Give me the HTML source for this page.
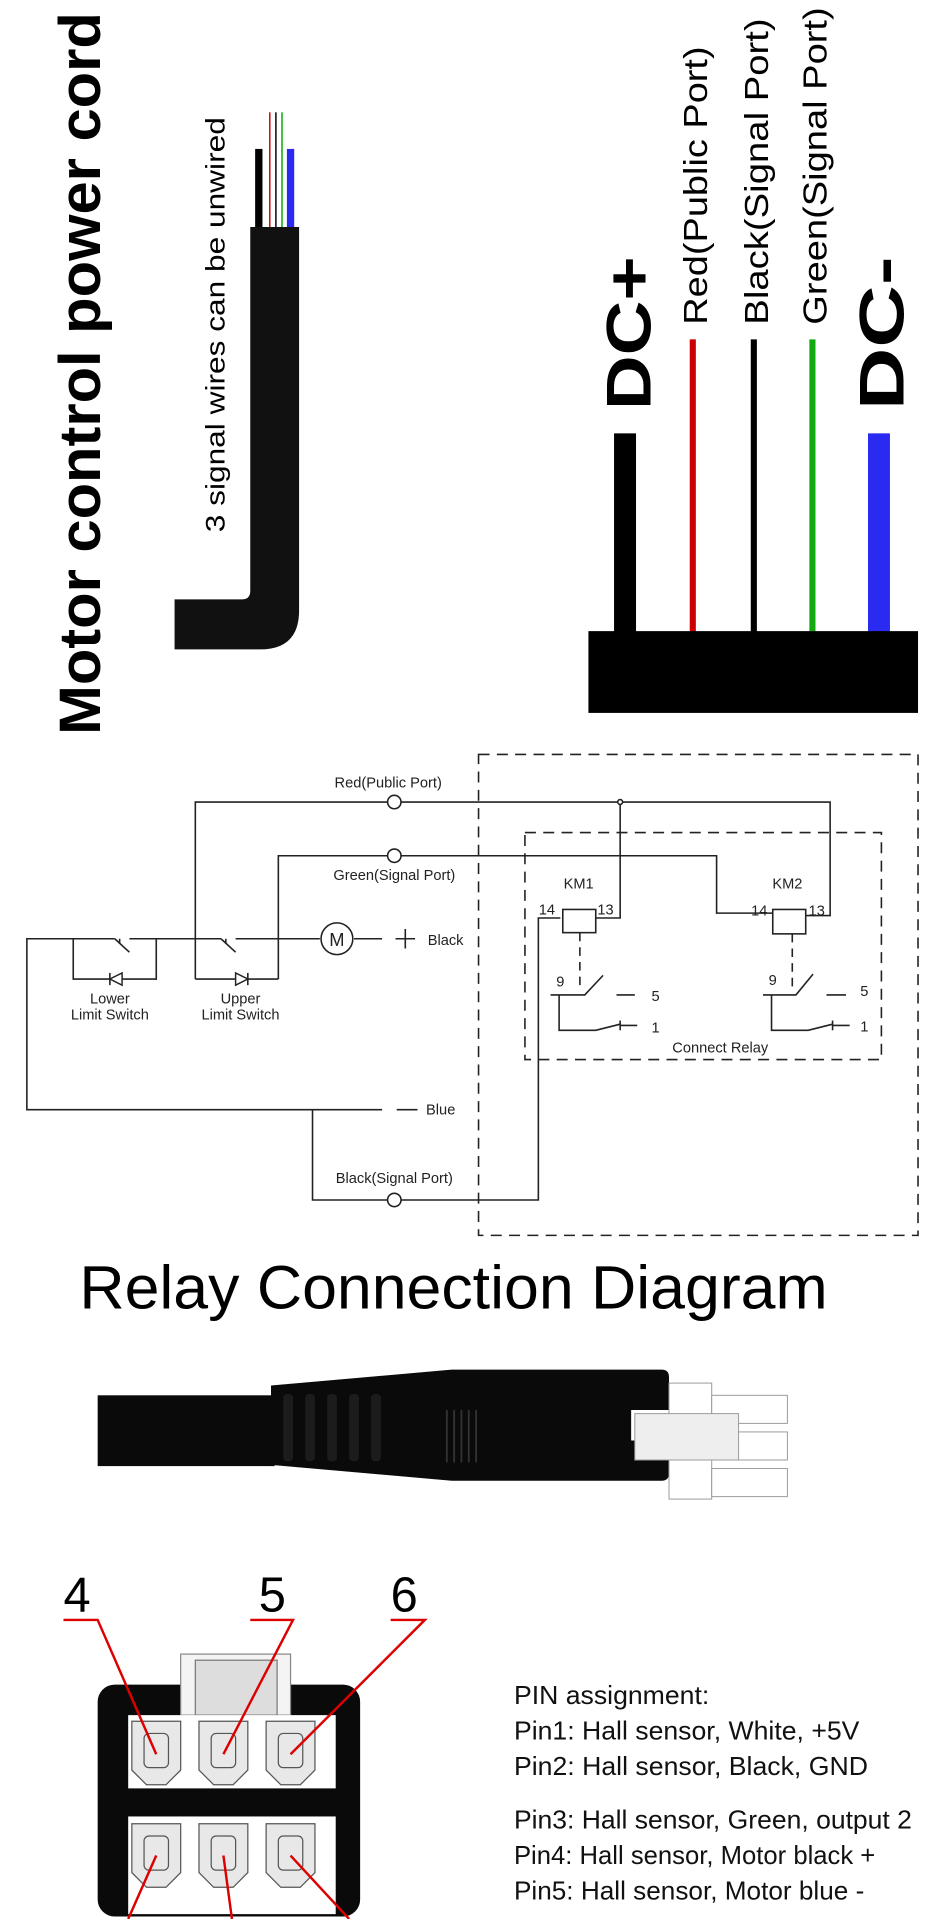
<!DOCTYPE html>
<html><head><meta charset="utf-8"><style>
html,body{margin:0;padding:0;background:#fff;}
svg{display:block;}
text{font-family:"Liberation Sans",Arial,sans-serif;}
</style></head><body>
<svg width="940" height="1919" viewBox="0 0 770 1572" preserveAspectRatio="none" xmlns="http://www.w3.org/2000/svg">
<rect width="770" height="1572" fill="#fff"/>
<text transform="translate(82,602) rotate(-90)" font-size="48" font-weight="bold" fill="#000" textLength="592" lengthAdjust="spacingAndGlyphs">Motor control power cord</text>
<line x1="221" y1="92" x2="221" y2="190" stroke="#c00" stroke-width="1.2"/>
<line x1="226" y1="92" x2="226" y2="190" stroke="#000" stroke-width="1.2"/>
<line x1="231" y1="92" x2="231" y2="190" stroke="#0a0" stroke-width="1.2"/>
<rect x="209" y="122" width="6" height="68" fill="#000"/>
<rect x="235" y="122" width="6" height="68" fill="#2a2af0"/>
<path d="M205,186 H245 V500 Q245,532 213,532 H143 V491 H198 Q205,491 205,484 Z" fill="#111"/>
<text transform="translate(184,436) rotate(-90)" font-size="22" fill="#000" textLength="340" lengthAdjust="spacingAndGlyphs">3 signal wires can be unwired</text>
<text transform="translate(533,336) rotate(-90)" font-size="52" font-weight="bold" textLength="126" lengthAdjust="spacingAndGlyphs">DC+</text>
<text transform="translate(579,266) rotate(-90)" font-size="27" textLength="228" lengthAdjust="spacingAndGlyphs">Red(Public Port)</text>
<text transform="translate(629,266) rotate(-90)" font-size="27" textLength="251" lengthAdjust="spacingAndGlyphs">Black(Signal Port)</text>
<text transform="translate(677,266) rotate(-90)" font-size="27" textLength="260" lengthAdjust="spacingAndGlyphs">Green(Signal Port)</text>
<text transform="translate(740,336) rotate(-90)" font-size="52" font-weight="bold" textLength="126" lengthAdjust="spacingAndGlyphs">DC-</text>
<rect x="503" y="355" width="18" height="165" fill="#000"/>
<rect x="565" y="278" width="5" height="242" fill="#c00"/>
<rect x="615" y="278" width="5" height="242" fill="#000"/>
<rect x="663" y="278" width="5" height="242" fill="#1a1"/>
<rect x="711" y="355" width="18" height="165" fill="#2a2af0"/>
<rect x="482" y="517" width="270" height="67" fill="#000"/>

<g stroke="#222" stroke-width="1.3" fill="none">
<rect x="392" y="618" width="360" height="394" stroke-dasharray="9,6"/>
<rect x="430" y="682" width="292" height="186" stroke-dasharray="9,6"/>
<polyline points="160,802 160,657 680,657 680,750 660,750"/>
<polyline points="228,802 228,701 587,701 587,748 633,748"/>
<polyline points="487,752 508,752 508,657"/>
<polyline points="459,752 441,752 441,983 256,983 256,909"/>
<polyline points="313,909 22,909 22,769 94,769"/>
<line x1="106" y1="769" x2="181" y2="769"/>
<line x1="193" y1="769" x2="262" y2="769"/>
<line x1="290" y1="769" x2="313" y2="769"/>
<line x1="324" y1="769" x2="340" y2="769"/><line x1="332" y1="761" x2="332" y2="777"/>
<line x1="325" y1="909" x2="342" y2="909"/>
<polyline points="94,769 106,780"/><line x1="98" y1="769" x2="98" y2="773"/>
<polyline points="181,769 193,780"/><line x1="185" y1="769" x2="185" y2="773"/>
<polyline points="60,769 60,802 128,802 128,769"/>
<polyline points="160,802 228,802"/>
<circle cx="276" cy="769" r="13"/>
<circle cx="323" cy="657" r="5.5" fill="#fff"/>
<circle cx="323" cy="701" r="5.5" fill="#fff"/>
<circle cx="323" cy="983" r="5.5" fill="#fff"/>
<circle cx="508" cy="657" r="2" fill="#fff"/>
<rect x="461" y="745" width="27" height="19" fill="#fff"/>
<rect x="633" y="745" width="27" height="20" fill="#fff"/>
<line x1="475" y1="764" x2="475" y2="812" stroke-dasharray="7,5"/>
<line x1="649" y1="765" x2="649" y2="812" stroke-dasharray="7,5"/>
<polyline points="451,815 479,815 494,799"/><line x1="505" y1="815" x2="520" y2="815"/>
<polyline points="458,815 458,844 488,844 508,839"/><line x1="508" y1="840" x2="522" y2="840"/><line x1="508" y1="836" x2="508" y2="844"/>
<polyline points="625,815 652,815 666,798"/><line x1="677" y1="815" x2="693" y2="815"/>
<polyline points="632,815 632,844 662,844 682,839"/><line x1="682" y1="840" x2="696" y2="840"/><line x1="682" y1="836" x2="682" y2="844"/>
</g>
<polygon points="90,802 100,797 100,807" fill="#fff" stroke="#222" stroke-width="1.2"/><line x1="90" y1="797" x2="90" y2="807" stroke="#222" stroke-width="1.3"/>
<polygon points="203,802 193,797 193,807" fill="#fff" stroke="#222" stroke-width="1.2"/><line x1="203" y1="797" x2="203" y2="807" stroke="#222" stroke-width="1.3"/>
<g font-size="12" fill="#222" text-anchor="middle">
<text x="318" y="645">Red(Public Port)</text>
<text x="323" y="721">Green(Signal Port)</text>
<text x="323" y="969">Black(Signal Port)</text>
<text x="90" y="822">Lower</text><text x="90" y="835">Limit Switch</text>
<text x="197" y="822">Upper</text><text x="197" y="835">Limit Switch</text>
<text x="276" y="775" font-size="15">M</text>
<text x="365" y="774">Black</text>
<text x="361" y="913">Blue</text>
<text x="474" y="728">KM1</text><text x="645" y="728">KM2</text>
<text x="448" y="749">14</text><text x="496" y="749">13</text>
<text x="622" y="750">14</text><text x="669" y="750">13</text>
<text x="459" y="808">9</text><text x="633" y="807">9</text>
<text x="537" y="820">5</text><text x="708" y="816">5</text>
<text x="537" y="846">1</text><text x="708" y="845">1</text>
<text x="590" y="862">Connect Relay</text>
</g>
<text x="65" y="1072" font-size="50" fill="#000" textLength="613" lengthAdjust="spacingAndGlyphs">Relay Connection Diagram</text>

<rect x="80" y="1143" width="145" height="58" fill="#0a0a0a"/>
<path d="M222,1135 L370,1122 L542,1122 Q548,1122 548,1128 L548,1155 L517,1155 L517,1180 L548,1180 L548,1207 Q548,1213 542,1213 L370,1213 L222,1200 Z" fill="#0a0a0a"/>
<g fill="#1c1c1c"><rect x="232" y="1142" width="8" height="55" rx="3"/><rect x="250" y="1142" width="8" height="55" rx="3"/><rect x="268" y="1142" width="8" height="55" rx="3"/><rect x="286" y="1142" width="8" height="55" rx="3"/><rect x="304" y="1142" width="8" height="55" rx="3"/></g>
<g stroke="#333" stroke-width="1.5"><line x1="366" y1="1155" x2="366" y2="1198"/><line x1="372" y1="1155" x2="372" y2="1198"/><line x1="378" y1="1155" x2="378" y2="1198"/><line x1="384" y1="1155" x2="384" y2="1198"/><line x1="390" y1="1155" x2="390" y2="1198"/></g>
<g fill="#fff" stroke="#999" stroke-width="0.8">
<rect x="548" y="1133" width="35" height="95"/>
<rect x="583" y="1143" width="62" height="23"/><rect x="583" y="1173" width="62" height="23"/><rect x="583" y="1203" width="62" height="23"/>
<rect x="520" y="1158" width="85" height="38" fill="#eee"/>
</g>

<rect x="80" y="1380" width="215" height="190" rx="14" fill="#0a0a0a"/>
<rect x="148" y="1355" width="90" height="50" fill="#f4f4f4" stroke="#888"/>
<rect x="160" y="1360" width="67" height="45" fill="#ddd" stroke="#777"/>
<rect x="105" y="1405" width="170" height="60" fill="#fff"/>
<rect x="105" y="1488" width="170" height="80" fill="#fff"/>
<g fill="#e8e8e8" stroke="#555" stroke-width="1">
<path d="M108,1410 h40 v40 l-12,12 h-16 l-12,-12 z"/><path d="M163,1410 h40 v40 l-12,12 h-16 l-12,-12 z"/><path d="M218,1410 h40 v40 l-12,12 h-16 l-12,-12 z"/>
<path d="M108,1494 h40 v40 l-12,12 h-16 l-12,-12 z"/><path d="M163,1494 h40 v40 l-12,12 h-16 l-12,-12 z"/><path d="M218,1494 h40 v40 l-12,12 h-16 l-12,-12 z"/>
<rect x="118" y="1420" width="20" height="28" rx="4"/><rect x="173" y="1420" width="20" height="28" rx="4"/><rect x="228" y="1420" width="20" height="28" rx="4"/>
<rect x="118" y="1504" width="20" height="28" rx="4"/><rect x="173" y="1504" width="20" height="28" rx="4"/><rect x="228" y="1504" width="20" height="28" rx="4"/>
</g>
<g font-size="40" fill="#000"><text x="52" y="1320">4</text><text x="212" y="1320">5</text><text x="320" y="1320">6</text></g>
<g stroke="#d00" stroke-width="2" fill="none">
<polyline points="52,1327 80,1327 128,1437"/>
<polyline points="205,1327 240,1327 183,1437"/>
<polyline points="320,1327 348,1327 238,1437"/>
<line x1="128" y1="1520" x2="105" y2="1572"/>
<line x1="183" y1="1520" x2="190" y2="1572"/>
<line x1="238" y1="1520" x2="286" y2="1572"/>
</g>
<g font-size="21" fill="#111">
<text x="421" y="1396" textLength="160" lengthAdjust="spacingAndGlyphs">PIN assignment:</text>
<text x="421" y="1425" textLength="283" lengthAdjust="spacingAndGlyphs">Pin1: Hall sensor, White, +5V</text>
<text x="421" y="1454" textLength="290" lengthAdjust="spacingAndGlyphs">Pin2: Hall sensor, Black, GND</text>
<text x="421" y="1498" textLength="326" lengthAdjust="spacingAndGlyphs">Pin3: Hall sensor, Green, output 2</text>
<text x="421" y="1527" textLength="296" lengthAdjust="spacingAndGlyphs">Pin4: Hall sensor, Motor black +</text>
<text x="421" y="1556" textLength="287" lengthAdjust="spacingAndGlyphs">Pin5: Hall sensor, Motor blue -</text>
</g>
</svg>
</body></html>
